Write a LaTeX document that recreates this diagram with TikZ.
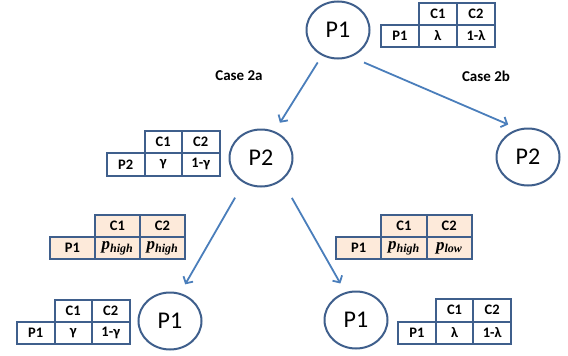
\documentclass[tikz,border=0pt]{standalone}
\usepackage{fontspec}
\setmainfont{Carlito}
\newfontfamily\pfont{Liberation Serif}
\usetikzlibrary{shapes.geometric,arrows.meta}
\definecolor{tabblue}{HTML}{3F5F8C}
\definecolor{arrblue}{HTML}{4A7EBB}
\definecolor{pinkfill}{HTML}{FDEADA}
\newcommand\pv[1]{{\pfont\bfseries\itshape\fontsize{17}{17}\selectfont p\textsubscript{\fontsize{12}{12}\selectfont #1}}}
\tikzset{
  cell/.style={draw=tabblue, line width=2pt, inner sep=0pt, anchor=north west,
    font=\fontsize{14.5}{16}\selectfont\bfseries, text=black},
  pnode/.style={ellipse, draw=tabblue, line width=2pt, minimum width=63pt,
    minimum height=57pt, inner sep=0pt, font=\fontsize{24}{27}\selectfont},
  arr/.style={draw=arrblue, line width=1.8pt, -{Straight Barb[length=5pt,width=11pt]}},
  caselab/.style={font=\fontsize{15}{17}\selectfont\bfseries}
}
\newcommand\paytab[9]{%
  \node[cell, fill=#6, minimum width=#4pt, minimum height=#5pt] (#1c1) at ({#2+#4},{#3}) {C1};
  \node[cell, fill=#6, minimum width=#4pt, minimum height=#5pt] (#1c2) at ({#2+2*#4},{#3}) {C2};
  \node[cell, fill=#6, minimum width=#4pt, minimum height=#5pt] (#1lab) at ({#2},{#3+#5}) {#7};
  \node[cell, fill=#6, minimum width=#4pt, minimum height=#5pt] (#1v1) at ({#2+#4},{#3+#5}) {#8};
  \node[cell, fill=#6, minimum width=#4pt, minimum height=#5pt] (#1v2) at ({#2+2*#4},{#3+#5}) {#9};
}
\begin{document}
\begin{tikzpicture}[x=1pt,y=-1pt]
\useasboundingbox (0,0) rectangle (568,356);
% nodes
\node[pnode] (top) at (338,30) {P1};
\node[pnode] (p2l) at (261,158) {P2};
\node[pnode] (p2r) at (528,157) {P2};
\node[pnode] (bl) at (170,321) {P1};
\node[pnode] (br) at (356,320) {P1};
% tables
\paytab{tA}{380}{1.5}{38}{22}{white}{P1}{λ}{1-λ}
\paytab{tB}{106}{129.5}{37.5}{22.5}{white}{P2}{γ}{1-γ}
\paytab{tC}{49}{214}{45}{22}{pinkfill}{P1}{\pv{high}}{\pv{high}}
\paytab{tD}{335}{214}{45.3}{22}{pinkfill}{P1}{\pv{high}}{\pv{low}}
\paytab{tE}{16}{299}{37.5}{22}{white}{P1}{γ}{1-γ}
\paytab{tF}{397}{298}{37.7}{22.5}{white}{P1}{λ}{1-λ}
% labels
\node[caselab] (case2a) at (239,76) {Case 2a};
\node[caselab] (case2b) at (486,76) {Case 2b};
% connectors
\draw[arr, shorten <=8pt, shorten >=10pt] (top.238) -- (p2l.63);
\draw[arr, shorten <=14pt, shorten >=11pt] (top.-64) -- (p2r.109);
\draw[arr, shorten <=17pt, shorten >=10pt] (p2l.235) -- (bl.70);
\draw[arr, shorten <=20pt, shorten >=10pt] (p2l.-47) -- (br.111);
\end{tikzpicture}
\end{document}
